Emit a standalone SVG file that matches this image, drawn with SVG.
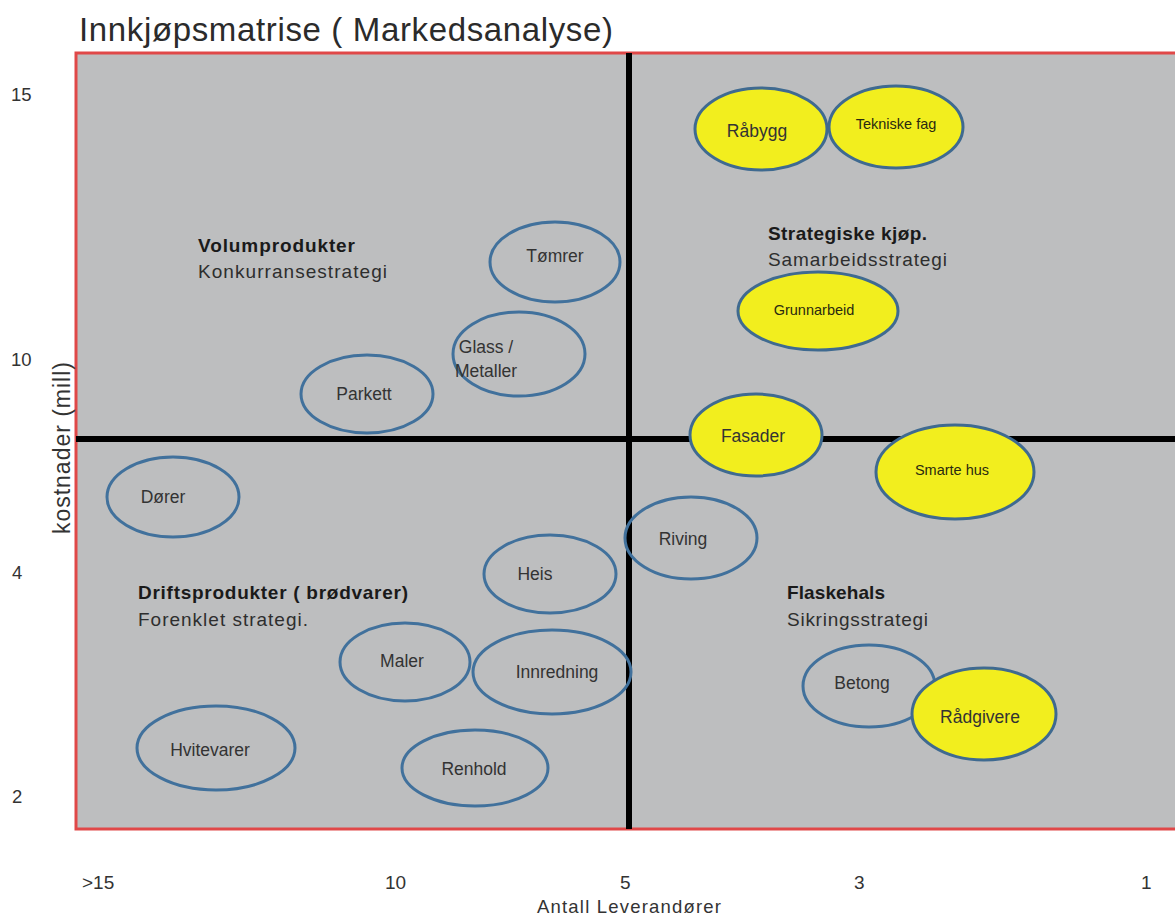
<svg xmlns="http://www.w3.org/2000/svg" width="1175" height="917" viewBox="0 0 1175 917">
  <style>
    text { font-family: "Liberation Sans", Arial, sans-serif; fill: #333; }
    .title { font-size: 33px; fill: #2b2b2b; }
    .yn { font-size: 18.5px; fill: #333; }
    .xn { font-size: 19px; fill: #333; }
    .head { font-size: 19px; font-weight: bold; fill: #1a1a1a; }
    .sub { font-size: 19px; fill: #2e2e2e; }
    .lbl { font-size: 17.5px; text-anchor: middle; fill: #333; }
    .small { font-size: 14.5px; text-anchor: middle; fill: #2a2a10; }
    .ring { fill: none; stroke: #41719c; stroke-width: 3; }
    .hot { fill: #f2ee1e; stroke: #3f6a90; stroke-width: 3; }
  </style>

  <rect x="0" y="0" width="1175" height="917" fill="#ffffff"/>

  <!-- title -->
  <text class="title" x="79" y="41" textLength="534">Innkjøpsmatrise ( Markedsanalyse)</text>

  <!-- matrix field -->
  <rect x="76" y="53" width="1110" height="776" fill="#bdbebf" stroke="#e04848" stroke-width="3"/>

  <!-- quadrant dividers -->
  <g id="axes-lines">
    <line x1="629" y1="53" x2="629" y2="829" stroke="#000" stroke-width="6"/>
    <line x1="76" y1="439" x2="1175" y2="439" stroke="#000" stroke-width="6"/>
  </g>

  <!-- y axis -->
  <g id="y-axis">
    <text class="yn" x="11" y="101">15</text>
    <text class="yn" x="11" y="366">10</text>
    <text class="yn" x="12" y="579">4</text>
    <text class="yn" x="12" y="803">2</text>
    <text transform="translate(70,448) rotate(-90)" text-anchor="middle" font-size="23" textLength="172" fill="#333">kostnader (mill)</text>
  </g>

  <!-- x axis -->
  <g id="x-axis">
    <text class="xn" x="82" y="889">&gt;15</text>
    <text class="xn" x="385" y="889">10</text>
    <text class="xn" x="620" y="889">5</text>
    <text class="xn" x="854" y="889">3</text>
    <text class="xn" x="1141" y="889">1</text>
    <text x="629" y="913" text-anchor="middle" font-size="18.5" textLength="184" fill="#333">Antall Leverandører</text>
  </g>

  <!-- quadrant captions -->
  <g id="q-volum">
    <text class="head" x="198" y="252" textLength="157">Volumprodukter</text>
    <text class="sub" x="198" y="278" textLength="189">Konkurransestrategi</text>
  </g>
  <g id="q-strategisk">
    <text class="head" x="768" y="240" textLength="159">Strategiske kjøp.</text>
    <text class="sub" x="768" y="266" textLength="179">Samarbeidsstrategi</text>
  </g>
  <g id="q-drift">
    <text class="head" x="138" y="599" textLength="270">Driftsprodukter ( brødvarer)</text>
    <text class="sub" x="138" y="626" textLength="170">Forenklet strategi.</text>
  </g>
  <g id="q-flaskehals">
    <text class="head" x="787" y="599" textLength="98">Flaskehals</text>
    <text class="sub" x="787" y="626" textLength="141">Sikringsstrategi</text>
  </g>

  <!-- product groups -->
  <g id="n-rabygg"><ellipse class="hot" cx="761" cy="129" rx="66" ry="41"/><text class="lbl" x="757" y="137">Råbygg</text></g>
  <g id="n-tekniske"><ellipse class="hot" cx="896" cy="127" rx="67" ry="41"/><text class="small" x="896" y="129">Tekniske fag</text></g>
  <g id="n-grunnarbeid"><ellipse class="hot" cx="818" cy="311" rx="80" ry="39"/><text class="small" x="814" y="315">Grunnarbeid</text></g>
  <g id="n-tomrer"><ellipse class="ring" cx="555" cy="262" rx="65" ry="40"/><text class="lbl" x="555" y="262">Tømrer</text></g>
  <g id="n-glass"><ellipse class="ring" cx="519" cy="354" rx="66" ry="42"/><text class="lbl" x="486" y="353" text-anchor="start">Glass /</text><text class="lbl" x="486" y="377" text-anchor="start">Metaller</text></g>
  <g id="n-parkett"><ellipse class="ring" cx="367" cy="394" rx="66" ry="39"/><text class="lbl" x="364" y="400">Parkett</text></g>
  <g id="n-fasader"><ellipse class="hot" cx="756" cy="435" rx="66" ry="41"/><text class="lbl" x="753" y="442">Fasader</text></g>
  <g id="n-smarte"><ellipse class="hot" cx="955" cy="472" rx="79" ry="47"/><text class="small" x="952" y="475">Smarte hus</text></g>
  <g id="n-dorer"><ellipse class="ring" cx="173" cy="497" rx="66" ry="40"/><text class="lbl" x="163" y="503">Dører</text></g>
  <g id="n-riving"><ellipse class="ring" cx="691" cy="538" rx="66" ry="41"/><text class="lbl" x="683" y="545">Riving</text></g>
  <g id="n-heis"><ellipse class="ring" cx="550" cy="574" rx="66" ry="39"/><text class="lbl" x="535" y="580">Heis</text></g>
  <g id="n-maler"><ellipse class="ring" cx="405" cy="662" rx="65" ry="39"/><text class="lbl" x="402" y="667">Maler</text></g>
  <g id="n-innredning"><ellipse class="ring" cx="552" cy="672" rx="79" ry="42"/><text class="lbl" x="557" y="678">Innredning</text></g>
  <g id="n-betong"><ellipse class="ring" cx="869" cy="686" rx="66" ry="41"/><text class="lbl" x="862" y="689">Betong</text></g>
  <g id="n-radgivere"><ellipse class="hot" cx="984" cy="714" rx="72" ry="46"/><text class="lbl" x="980" y="723">Rådgivere</text></g>
  <g id="n-hvitevarer"><ellipse class="ring" cx="216" cy="748" rx="79" ry="42"/><text class="lbl" x="210" y="756">Hvitevarer</text></g>
  <g id="n-renhold"><ellipse class="ring" cx="475" cy="768" rx="73" ry="38"/><text class="lbl" x="474" y="775">Renhold</text></g>
</svg>
